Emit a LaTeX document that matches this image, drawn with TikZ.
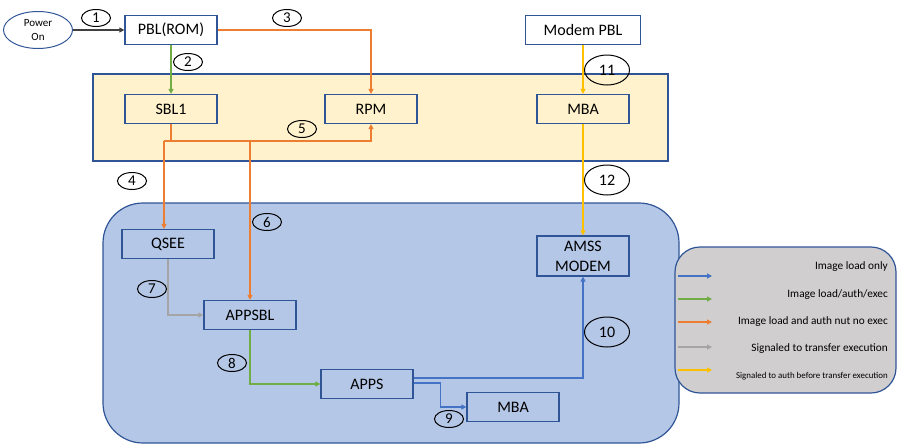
\documentclass[tikz,border=0pt]{standalone}
\usepackage{fontspec}
\setmainfont{Carlito}
\usetikzlibrary{arrows.meta,shapes.geometric}
\definecolor{boxblue}{RGB}{47,85,151}
\definecolor{lblue}{RGB}{68,114,196}
\definecolor{lgreen}{RGB}{112,173,71}
\definecolor{lorange}{RGB}{237,125,49}
\definecolor{lgray}{RGB}{165,165,165}
\definecolor{lyellow}{RGB}{255,192,0}
\definecolor{yellowbg}{RGB}{255,242,204}
\definecolor{bluebg}{RGB}{180,199,231}
\definecolor{legbg}{RGB}{208,206,206}
\begin{document}
\begin{tikzpicture}[x=1pt,y=-1pt,
    box/.style={draw=boxblue,line width=1.2pt,minimum width=92pt,minimum height=29pt,inner sep=0pt,font=\fontsize{16}{20}\selectfont},
    num/.style={draw,ellipse,line width=1pt,minimum width=29pt,minimum height=17pt,inner sep=0pt,font=\fontsize{15}{15}\selectfont},
    bignum/.style={num,minimum width=45pt,minimum height=30pt,font=\fontsize{16}{16}\selectfont},
    link/.style={line width=1.1pt,-{Triangle[length=5pt,width=5pt]}}]
    \useasboundingbox (0,0) rectangle (897,445);
    % areas
    \draw[fill=yellowbg,draw=boxblue,line width=1.2pt] (93,74) rectangle (668,161);
    \draw[fill=bluebg,draw=boxblue,line width=1.2pt,rounded corners=40pt] (103,203) rectangle (679,443);
    \draw[fill=legbg,draw=boxblue,line width=1.2pt,rounded corners=25pt] (675,247) rectangle (896,393);
    % blocks
    \node[draw=boxblue,line width=1pt,ellipse,minimum width=69pt,minimum height=37pt,inner sep=0pt,align=center,font=\fontsize{11}{14}\selectfont] (power) at (38,30) {Power\\On};
    \node[box] (pbl) at (171,30) {PBL(ROM)};
    \node[box] (sbl) at (171,109) {SBL1};
    \node[box] (rpm) at (371,109) {RPM};
    \node[box,minimum width=115pt] (mpbl) at (583,30) {Modem PBL};
    \node[box] (mba) at (583,109) {MBA};
    \node[box] (qsee) at (168,244) {QSEE};
    \node[box] (appsbl) at (250,315) {APPSBL};
    \node[box] (apps) at (367,384) {APPS};
    \node[box] (mbb) at (513,407) {MBA};
    \node[box,minimum height=40pt,align=center] (amss) at (583,256) {AMSS\\MODEM};
    % steps
    \node[num] (n1) at (96,18) {1};
    \node[num] (n2) at (188,62) {2};
    \node[num] (n3) at (287,18) {3};
    \node[num] (n4) at (132,181) {4};
    \node[num] (n5) at (302,129) {5};
    \node[num] (n6) at (267,222) {6};
    \node[num] (n7) at (152,289) {7};
    \node[num] (n8) at (232,363) {8};
    \node[num] (n9) at (449,419) {9};
    \node[bignum] (n10) at (607,332) {10};
    \node[bignum] (n11) at (607,70) {11};
    \node[bignum] (n12) at (607,180) {12};
    % links
    \coordinate (j4) at (164,141);
    \coordinate (j6) at (250,141);
    \draw[link,black!75] (power) -- (pbl);
    \draw[link,lgreen] (pbl) -- (sbl);
    \draw[link,lorange] (pbl.east) -| (rpm.north);
    \draw[lorange,line width=1.1pt] (sbl.south) -- (sbl.south |- j4) -- (j4);
    \draw[link,lorange] (j4) -| (rpm.south);
    \draw[link,lorange] (j4) -- (j4 |- qsee.north);
    \draw[link,lorange] (j6) -- (appsbl.north);
    \draw[link,lgray] (qsee.south) |- (appsbl.west);
    \draw[link,lgreen] (appsbl.south) |- (apps.west);
    \draw[link,lblue] ([yshift=6pt]apps.east) -| (amss.south);
    \draw[link,lblue] ([yshift=1pt]apps.east) -- ++(27,0) |- (mbb.west);
    \draw[link,lyellow] (mpbl) -- (mba);
    \draw[link,lyellow] (mba) -- (amss);
    % legend
    \foreach \i/\y/\ty/\c/\fs/\t in {1/276/267/lblue/11.3/{Image load only},
        2/299/295/lgreen/11.3/{Image load/auth/exec},
        3/322/322/lorange/11.3/{Image load and auth nut no exec},
        4/347/349/lgray/11.3/{Signaled to transfer execution},
        5/370/376/lyellow/8.9/{Signaled to auth before transfer execution}}{
        \coordinate (la\i) at (678,\y);
        \coordinate (lb\i) at (712,\y);
        \draw[link,\c] (la\i) -- (lb\i);
        \node[anchor=east,inner sep=0pt,font=\fontsize{\fs}{\fs}\selectfont] (lt\i) at (888,\ty) {\t};
    }
\end{tikzpicture}
\end{document}
